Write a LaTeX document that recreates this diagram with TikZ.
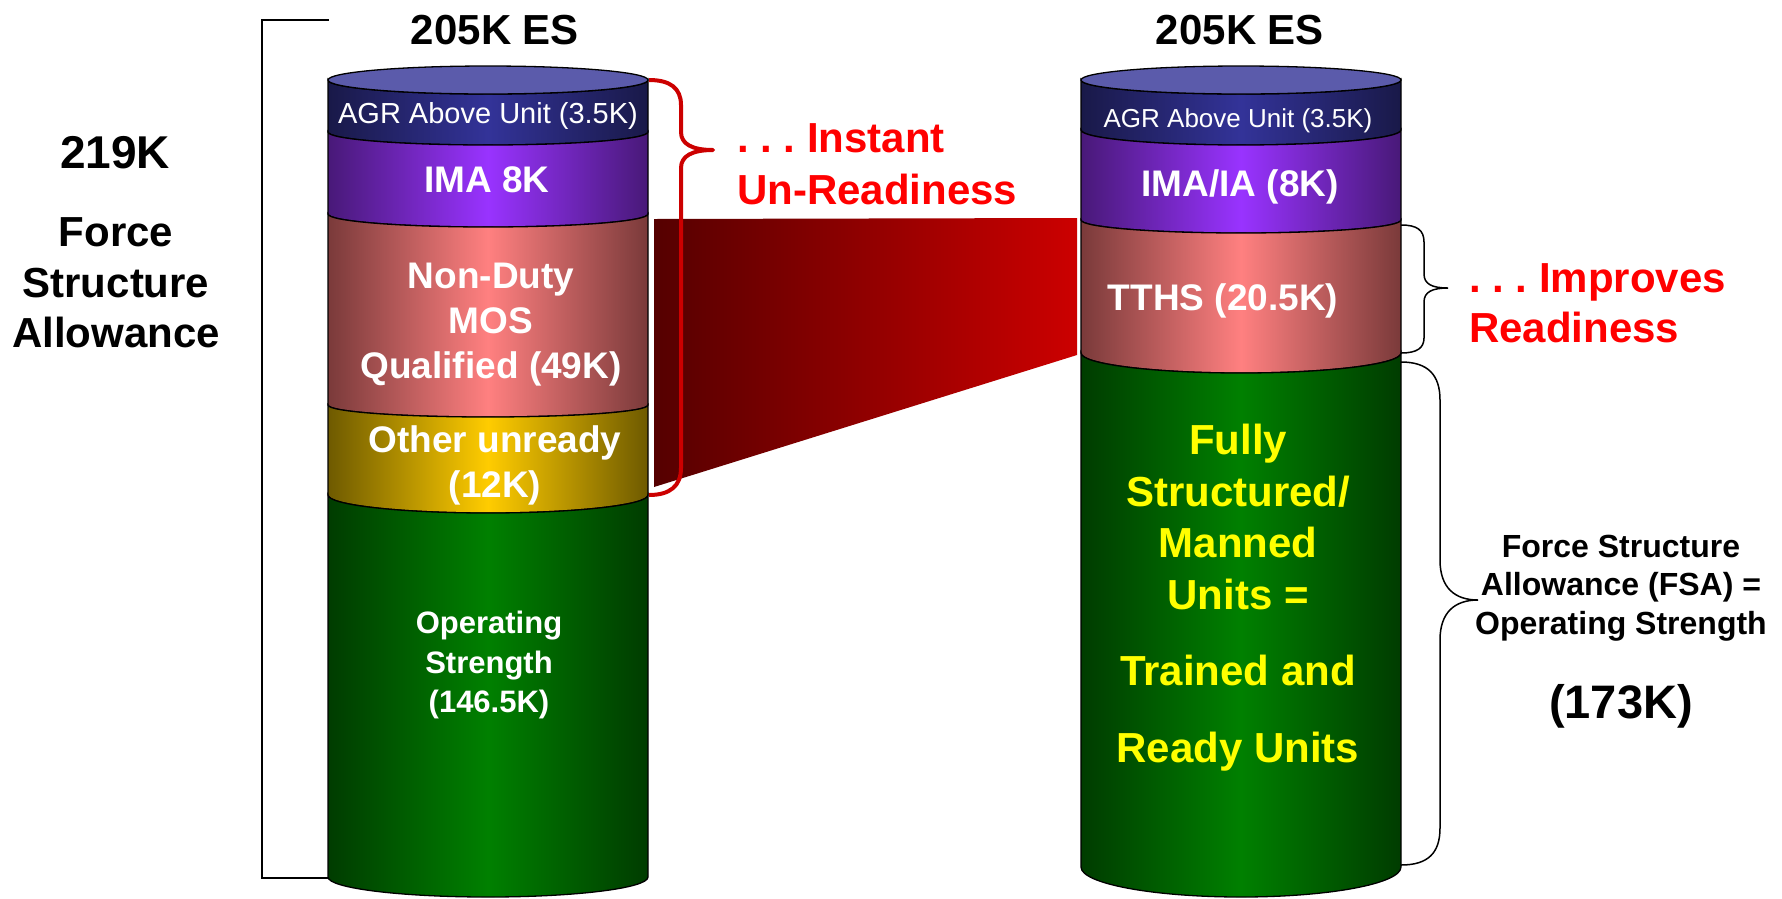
\documentclass[tikz,border=0pt]{standalone}
\usepackage{fontspec}
\setmainfont{Liberation Sans}
\frenchspacing
\newcommand{\fsz}[2]{\fontsize{#1}{#2}\selectfont}
\begin{document}
\begin{tikzpicture}[x=1pt,y=-1pt,
        capa/.style={draw=black,line width=1.3pt},
        txtin/.style={inner sep=0pt,align=center,text=white},
        txtout/.style={inner sep=0pt,align=center},
        llaveroja/.style={draw=llaveR,line width=4pt,line join=round},
        llavenegra/.style={draw=black,line width=1.5pt}]
        %colores
        \definecolor{tapa}{RGB}{91,91,171}
        \definecolor{agrE}{RGB}{25,25,72}   \definecolor{agrM}{RGB}{51,51,153}
        \definecolor{imaE}{RGB}{72,25,120}  \definecolor{imaM}{RGB}{153,51,255}
        \definecolor{nmqE}{RGB}{122,58,58}  \definecolor{nmqM}{RGB}{255,128,128}
        \definecolor{othE}{RGB}{110,90,0}   \definecolor{othM}{RGB}{255,204,0}
        \definecolor{grnE}{RGB}{0,60,0}     \definecolor{grnM}{RGB}{0,128,0}
        \definecolor{trapL}{RGB}{85,0,0}    \definecolor{trapR}{RGB}{204,0,0}
        \definecolor{llaveR}{RGB}{204,0,0}
        \definecolor{txtR}{RGB}{255,0,0}
        \definecolor{txtY}{RGB}{255,255,0}
        \useasboundingbox (0,0) rectangle (1782,898);

        % Cilindro izquierdo (205K ES)
        \foreach \yt/\yb/\rt/\rb/\col in {80/132/14/13/agr,132/214/13/13/ima,214/405/13/12/nmq,405/495/12/18/oth,495/877/18/20/grn}
        \shadedraw[capa,left color=\col E,right color=\col E,middle color=\col M]
            (328,\yt) -- (328,\yb) arc[start angle=180,end angle=0,x radius=160,y radius=\rb]
            -- (648,\yt) arc[start angle=0,end angle=180,x radius=160,y radius=\rt] -- cycle;
        \filldraw[capa,fill=tapa] (488,80) ellipse[x radius=160,y radius=14];

        % Cilindro derecho (205K ES)
        \foreach \yt/\yb/\rt/\rb/\col in {80/130/14/15/agr,130/220/15/13/ima,220/353/13/20/nmq,353/867/20/30/grn}
        \shadedraw[capa,left color=\col E,right color=\col E,middle color=\col M]
            (1081,\yt) -- (1081,\yb) arc[start angle=180,end angle=0,x radius=160,y radius=\rb]
            -- (1401,\yt) arc[start angle=0,end angle=180,x radius=160,y radius=\rt] -- cycle;
        \filldraw[capa,fill=tapa] (1241,80) ellipse[x radius=160,y radius=14];

        % Figura relleno entre cilindros
        \shade[left color=trapL,right color=trapR] (654,219) -- (1077,218) -- (1077,355) -- (654,487) -- cycle;

        % Corchete izquierdo
        \draw[line width=1.5pt] (329,20) -- (262,20) -- (262,878) -- (328,878);

        % Llaves
        \draw[llaveroja] (649,80) .. controls (670,80) and (681,88) .. (681,105) -- (681,132)
            .. controls (681,144) and (692,150) .. (713,150)
            .. controls (692,150) and (681,156) .. (681,168) -- (681,468)
            .. controls (681,486) and (670,495) .. (649,495);
        \draw[llavenegra] (1401,225) .. controls (1417,225) and (1424,230) .. (1424,242) -- (1424,274)
            .. controls (1424,284) and (1432,288) .. (1448,288)
            .. controls (1432,288) and (1424,292) .. (1424,302) -- (1424,338)
            .. controls (1424,348) and (1417,353) .. (1401,353);
        \draw[llavenegra] (1401,362) .. controls (1428,362) and (1440,375) .. (1440,400) -- (1440,560)
            .. controls (1440,588) and (1455,600) .. (1478,600)
            .. controls (1455,600) and (1440,612) .. (1440,640) -- (1440,828)
            .. controls (1440,853) and (1428,865) .. (1401,865);

        % Textos
        \node[txtout,font=\fsz{42}{50}\bfseries] (esL) at (495,30) {205K ES};
        \node[txtout,font=\fsz{42}{50}\bfseries] (esR) at (1240,30) {205K ES};
        \node[txtout,font=\fsz{46}{54}\bfseries] (totL) at (115,153) {219K};
        \node[txtout,font=\fsz{42}{50.5}\bfseries] (fsaL) at (116,283) {Force\\Structure\\Allowance};

        \node[txtin,font=\fsz{29}{34}] (agrL) at (488,116) {AGR Above Unit (3.5K)};
        \node[txtin,font=\fsz{37}{45}\bfseries] (imaL) at (487,180) {IMA 8K};
        \node[txtin,font=\fsz{37}{45}\bfseries] (nmqL) at (491,325) {Non-Duty\\MOS\\Qualified (49K)};
        \node[txtin,font=\fsz{37}{45}\bfseries] (othL) at (495,465) {Other unready\\(12K)};
        \node[txtin,font=\fsz{31}{39.5}\bfseries] (opsL) at (489,665) {Operating\\Strength\\(146.5K)};

        \node[txtin,font=\fsz{26}{31}] (agrR) at (1238,120.5) {AGR Above Unit (3.5K)};
        \node[txtin,font=\fsz{37}{45}\bfseries] (imaR) at (1240,187) {IMA/IA (8K)};
        \node[txtin,font=\fsz{37}{45}\bfseries] (tthsR) at (1223,301) {TTHS (20.5K)};
        \node[txtin,text=txtY,font=\fsz{42}{51.5}\bfseries] (fsmR) at (1238,597.5)
            {Fully\\Structured/\\Manned\\Units =\\[25pt]Trained and\\[25pt]Ready Units};

        \node[txtout,align=left,anchor=west,text=txtR,font=\fsz{42}{52}\bfseries] (instant) at (737,164) {. . . Instant\\Un-Readiness};
        \node[txtout,align=left,anchor=west,text=txtR,font=\fsz{42}{50}\bfseries] (improves) at (1469,303.5) {. . . Improves\\Readiness};
        \node[txtout,font=\fsz{32}{38.5}\bfseries] (fsaR) at (1621,588) {Force Structure\\Allowance (FSA) =\\Operating Strength};
        \node[txtout,font=\fsz{47}{55}\bfseries] (osR) at (1621,706) {(173K)};
    \end{tikzpicture}
\end{document}
